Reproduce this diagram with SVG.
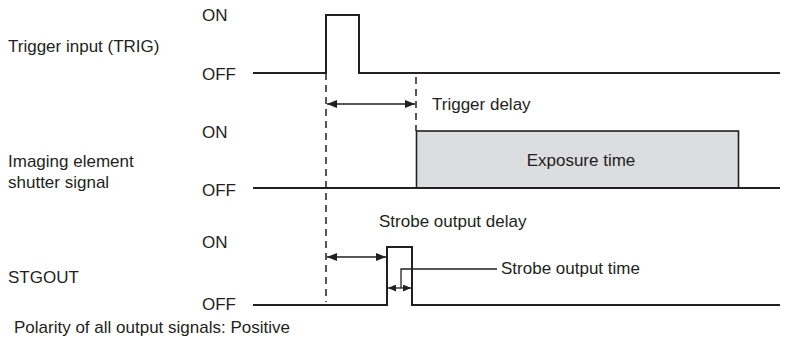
<svg xmlns="http://www.w3.org/2000/svg" width="800" height="345" viewBox="0 0 800 345">
<style>
text{font-family:"Liberation Sans",Arial,sans-serif;font-size:17px;fill:#231f20}
.sig{fill:none;stroke:#231f20;stroke-width:2;stroke-linejoin:miter}
.dash{fill:none;stroke:#231f20;stroke-width:1.5;stroke-dasharray:7,5}
.dim{fill:none;stroke:#231f20;stroke-width:1.3}
</style>
<defs>
<marker id="ah" viewBox="0 0 10 8" refX="10" refY="4" markerWidth="10" markerHeight="8" markerUnits="userSpaceOnUse" orient="auto-start-reverse">
<path d="M0,0 L10,4 L0,8 Z" fill="#231f20"/>
</marker>
<marker id="ahs" viewBox="0 0 8 7" refX="8" refY="3.5" markerWidth="8" markerHeight="7" markerUnits="userSpaceOnUse" orient="auto-start-reverse">
<path d="M0,0 L8,3.5 L0,7 Z" fill="#231f20"/>
</marker>
</defs>
<rect width="800" height="345" fill="#ffffff"/>
<g id="trig">
<text x="8" y="52">Trigger input (TRIG)</text>
<text x="202" y="21">ON</text>
<text x="202" y="80">OFF</text>
<polyline class="sig" points="253,73 326,73 326,15 359,15 359,73 780,73"/>
</g>
<g id="shutter">
<text x="8" y="167">Imaging element</text>
<text x="8" y="188">shutter signal</text>
<text x="202" y="138">ON</text>
<text x="202" y="196">OFF</text>
<rect x="416.5" y="131" width="322" height="57" fill="#dcdddf" stroke="#231f20" stroke-width="1.6"/>
<text x="581" y="166" text-anchor="middle">Exposure time</text>
<line class="sig" x1="253" y1="188" x2="780" y2="188"/>
</g>
<g id="stgout">
<text x="8" y="283">STGOUT</text>
<text x="202" y="248">ON</text>
<text x="202" y="310">OFF</text>
<polyline class="sig" points="253,305 387,305 387,247 412,247 412,305 780,305"/>
</g>
<g id="connectors">
<line class="dash" x1="326" y1="73" x2="326" y2="302"/>
<line class="dash" x1="416" y1="77" x2="416" y2="131"/>
<line class="dim" x1="327" y1="104" x2="415" y2="104" marker-start="url(#ah)" marker-end="url(#ah)"/>
<text x="432" y="110">Trigger delay</text>
<line class="dim" x1="327" y1="257" x2="386" y2="257" marker-start="url(#ah)" marker-end="url(#ah)"/>
<text x="379" y="227">Strobe output delay</text>
<line class="dim" x1="388" y1="288" x2="411" y2="288" marker-start="url(#ahs)" marker-end="url(#ahs)"/>
<polyline class="dim" points="401,288 401,269 497,269"/>
<text x="501" y="274">Strobe output time</text>
</g>
<text x="14" y="333">Polarity of all output signals: Positive</text>
</svg>
